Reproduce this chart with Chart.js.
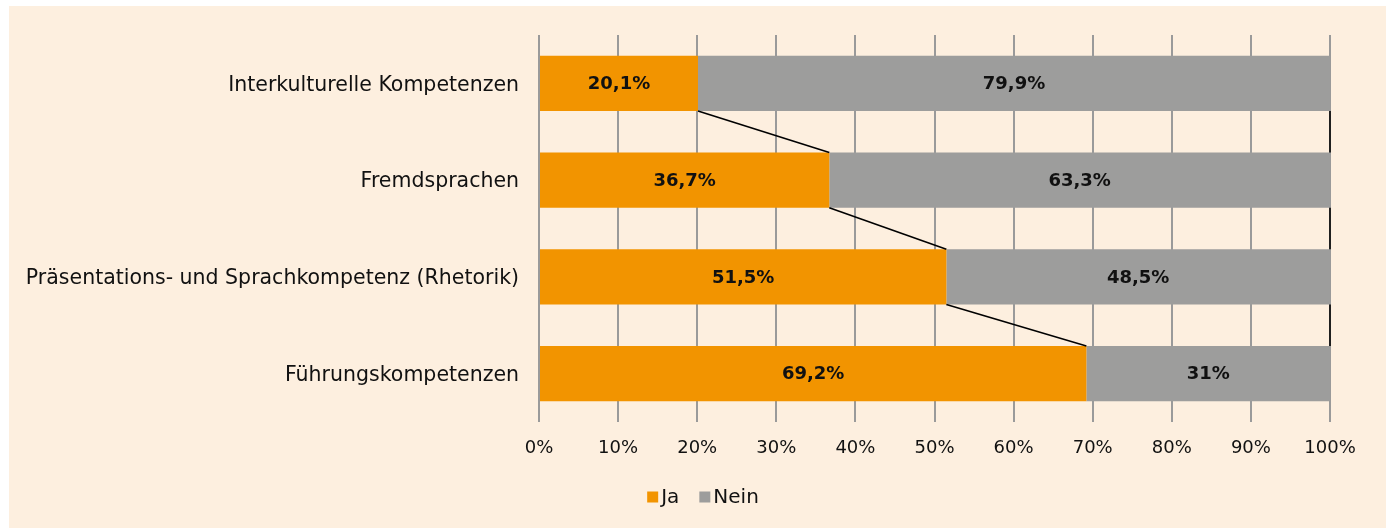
<!DOCTYPE html>
<html>
<head>
<meta charset="utf-8">
<script src="https://cdn.jsdelivr.net/npm/chart.js@4"></script>
<style>
  html, body { margin: 0; padding: 0; background: #ffffff; }
  #wrap { position: absolute; left: 9px; top: 6px; width: 1377px; height: 522px; background: #fdefdf; }
</style>
</head>
<body>
<div id="wrap"><canvas id="myChart" width="1377" height="522"></canvas></div>
<script>
const categories = [
    'Interkulturelle Kompetenzen',
    'Fremdsprachen',
    'Präsentations- und Sprachkompetenz (Rhetorik)',
    'Führungskompetenzen'
];
const jaValues = [20.1, 36.7, 51.5, 69.2];
const neinValues = [79.9, 63.3, 48.5, 30.8];
const neinLabels = ['79,9%', '63,3%', '48,5%', '31%'];
const xTicks = [0, 10, 20, 30, 40, 50, 60, 70, 80, 90, 100];

const fmt = v => String(v).replace('.', ',') + '%';

// series lines between bars (like Excel)
const seriesLines = {
    id: 'seriesLines',
    afterDatasetsDraw(chart) {
        const ctx = chart.ctx;
        ctx.save();
        ctx.strokeStyle = '#000';
        ctx.lineWidth = 1.6;
        chart.data.datasets.forEach((ds, di) => {
            const meta = chart.getDatasetMeta(di);
            for (let i = 0; i < meta.data.length - 1; i++) {
                const a = meta.data[i], b = meta.data[i + 1];
                ctx.beginPath();
                ctx.moveTo(a.x, a.y + a.height / 2);
                ctx.lineTo(b.x, b.y - b.height / 2);
                ctx.stroke();
            }
        });
        ctx.restore();
    }
};

const valueLabels = {
    id: 'valueLabels',
    afterDatasetsDraw(chart) {
        const ctx = chart.ctx;
        ctx.save();
        ctx.font = 'bold 18px "DejaVu Sans"';
        ctx.fillStyle = '#111';
        ctx.textAlign = 'center';
        ctx.textBaseline = 'middle';
        chart.data.datasets.forEach((ds, di) => {
            const meta = chart.getDatasetMeta(di);
            meta.data.forEach((bar, i) => {
                const txt = di === 0 ? fmt(ds.data[i]) : neinLabels[i];
                ctx.fillText(txt, (bar.x + bar.base) / 2, bar.y + 1);
            });
        });
        ctx.restore();
    }
};

// legend drawn by hand: small square, tight gap, text
const smallLegend = {
    id: 'smallLegend',
    afterDraw(chart) {
        const ctx = chart.ctx;
        ctx.save();
        ctx.font = '20px "DejaVu Sans"';
        ctx.textBaseline = 'middle';
        const items = chart.data.datasets.map(ds => ({ text: ds.label, color: ds.backgroundColor }));
        const box = 11, gap = 3, sep = 20;
        let total = 0;
        items.forEach((it, i) => {
            it.w = ctx.measureText(it.text).width;
            total += box + gap + it.w + (i < items.length - 1 ? sep : 0);
        });
        let x = 694 - total / 2;
        const y = 491;
        items.forEach(it => {
            ctx.fillStyle = it.color;
            ctx.fillRect(x, y - box / 2, box, box);
            ctx.fillStyle = '#111';
            ctx.textAlign = 'left';
            ctx.fillText(it.text, x + box + gap, y + 1);
            x += box + gap + it.w + sep;
        });
        ctx.restore();
    }
};

Chart.defaults.font.family = '"DejaVu Sans"';
Chart.defaults.color = '#111';

new Chart(document.getElementById('myChart').getContext('2d'), {
    type: 'bar',
    data: {
        labels: categories,
        datasets: [
            { label: 'Ja', data: jaValues, backgroundColor: '#f29400', borderWidth: 0 },
            { label: 'Nein', data: neinValues, backgroundColor: '#9d9d9c', borderWidth: 0 }
        ]
    },
    options: {
        indexAxis: 'y',
        responsive: false,
        animation: false,
        categoryPercentage: 1,
        barPercentage: 0.57,
        layout: { padding: { top: 29, right: 56, left: 0, bottom: 58 } },
        scales: {
            x: {
                stacked: true,
                min: 0,
                max: 100,
                afterBuildTicks: s => { s.ticks = xTicks.map(v => ({ value: v })); },
                grid: { color: '#9a9a9a', lineWidth: 2, drawTicks: false },
                border: { display: false },
                ticks: { callback: v => v + '%', font: { size: 18 }, padding: 16, color: '#111' },
                afterFit: s => { s.height = 48; }
            },
            y: {
                stacked: true,
                grid: { display: false },
                border: { display: false },
                ticks: { font: { size: 20.5 }, padding: 12, labelOffset: 2, color: '#111' },
                afterFit: s => { s.width = 530; }
            }
        },
        plugins: {
            legend: { display: false },
            tooltip: { enabled: false }
        }
    },
    plugins: [seriesLines, valueLabels, smallLegend]
});
</script>
</body>
</html>
